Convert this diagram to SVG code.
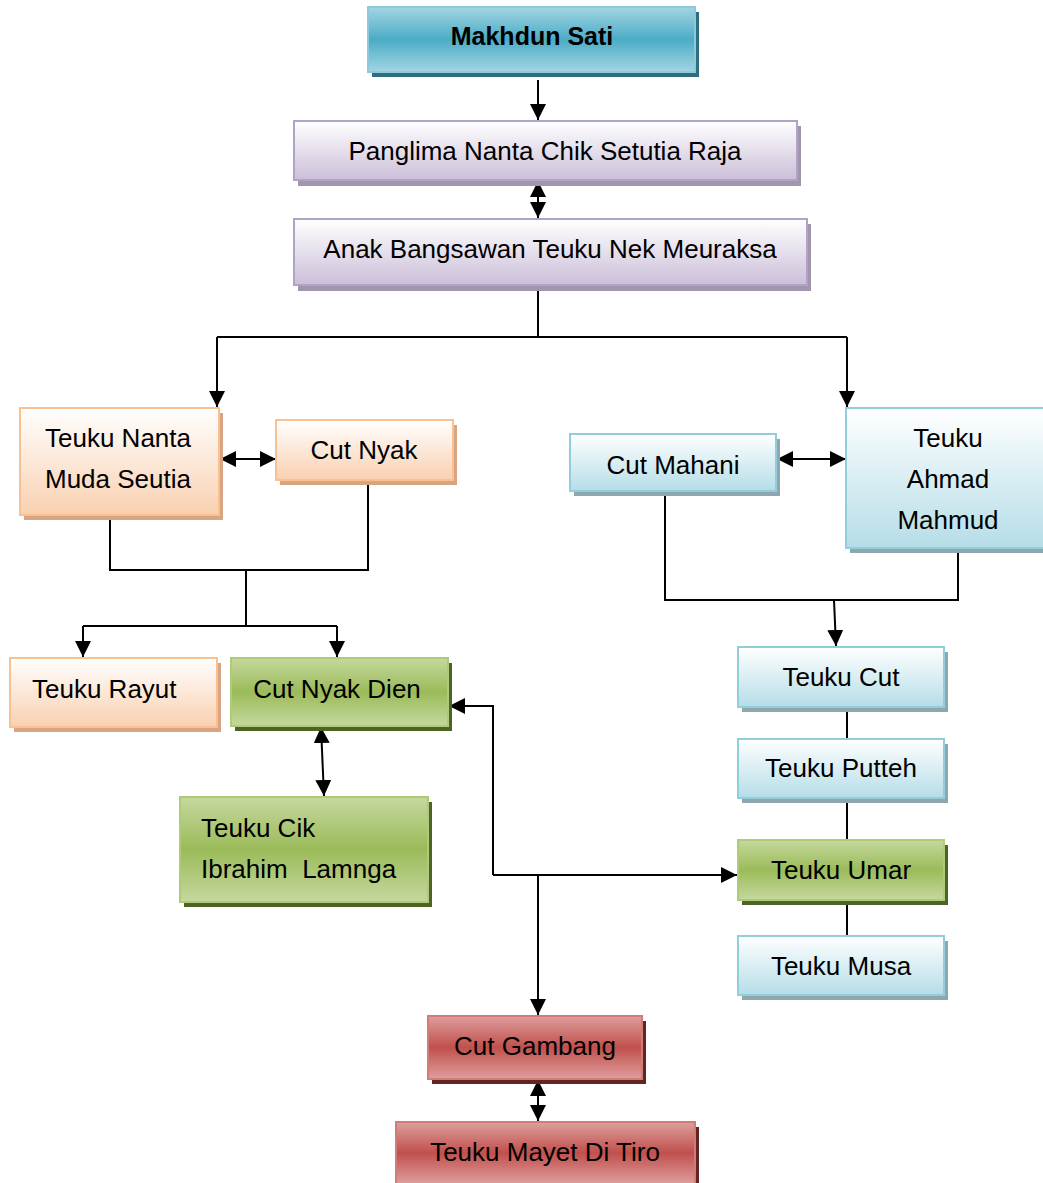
<svg xmlns="http://www.w3.org/2000/svg" width="1043" height="1183" viewBox="0 0 1043 1183">
<defs>
<linearGradient id="gTeal" x1="0" y1="0" x2="0" y2="1"><stop offset="0" stop-color="#A3D5E3"/><stop offset="0.5" stop-color="#4BACC6"/><stop offset="1" stop-color="#A3D5E3"/></linearGradient>
<linearGradient id="gPurple" x1="0" y1="0" x2="0" y2="1"><stop offset="0" stop-color="#FFFFFF"/><stop offset="1" stop-color="#CBBFD9"/></linearGradient>
<linearGradient id="gPeach" x1="0" y1="0" x2="0" y2="1"><stop offset="0" stop-color="#FFFFFF"/><stop offset="1" stop-color="#F9D0B0"/></linearGradient>
<linearGradient id="gBlue" x1="0" y1="0" x2="0" y2="1"><stop offset="0" stop-color="#FFFFFF"/><stop offset="1" stop-color="#B5DDE7"/></linearGradient>
<linearGradient id="gGreen" x1="0" y1="0" x2="0" y2="1"><stop offset="0" stop-color="#C5D89E"/><stop offset="0.5" stop-color="#9BBB59"/><stop offset="1" stop-color="#C5D89E"/></linearGradient>
<linearGradient id="gRed" x1="0" y1="0" x2="0" y2="1"><stop offset="0" stop-color="#DE9F9D"/><stop offset="0.5" stop-color="#C0504D"/><stop offset="1" stop-color="#DE9F9D"/></linearGradient>
<marker id="ah" viewBox="0 0 12 12" refX="12" refY="6" markerWidth="16" markerHeight="16" markerUnits="userSpaceOnUse" orient="auto-start-reverse"><path d="M0,0 L12,6 L0,12 Z" fill="#000"/></marker>
<style>
text{font-family:"Liberation Sans",Arial,sans-serif;font-size:26px;fill:#000}
.c{text-anchor:middle}
.b{font-weight:bold;font-size:25px}
.teal .f{fill:url(#gTeal);stroke:#8CCADB;stroke-width:2}
.teal .s{fill:#2E6E7F}
.purple .f{fill:url(#gPurple);stroke:#B3A2C7;stroke-width:2}
.purple .s{fill:#A196AC}
.peach .f{fill:url(#gPeach);stroke:#FAC08F;stroke-width:2}
.peach .s{fill:#D7A583}
.blue .f{fill:url(#gBlue);stroke:#92CDDC;stroke-width:2}
.blue .s{fill:#8EA6AD}
.green .f{fill:url(#gGreen);stroke:#AECB78;stroke-width:2}
.green .s{fill:#4F6228}
.red .f{fill:url(#gRed);stroke:#D27C79;stroke-width:2}
.red .s{fill:#632523}
.ln{fill:none;stroke:#000;stroke-width:2}
.a1{marker-end:url(#ah)}
.a2{marker-start:url(#ah);marker-end:url(#ah)}
</style>
</defs>
<g id="connectors">
<path class="ln a1" d="M538,80 L538,120"/>
<path class="ln a2" d="M538,181 L538,218"/>
<path class="ln" d="M538,286 L538,337 M217,337 L847,337"/>
<path class="ln a1" d="M217,337 L217,407"/>
<path class="ln a1" d="M847,337 L847,407"/>
<path class="ln a2" d="M220,459 L276,459"/>
<path class="ln" d="M110,516 L110,570 L368,570 L368,481 M246,570 L246,626 M83,626 L337,626"/>
<path class="ln a1" d="M83,626 L83,657"/>
<path class="ln a1" d="M337,626 L337,657"/>
<path class="ln a2" d="M777,459 L846,459"/>
<path class="ln" d="M665,492 L665,600 L958,600 L958,549"/>
<path class="ln a1" d="M834,600 L836,646"/>
<path class="ln" d="M847,708 L847,739 M847,799 L847,840 M847,901 L847,936"/>
<path class="ln a2" d="M321,727 L324,796"/>
<path class="ln a1" d="M493,875 L493,706 L449,706"/>
<path class="ln a1" d="M493,875 L737,875"/>
<path class="ln a1" d="M538,875 L538,1015"/>
<path class="ln a2" d="M538,1080 L538,1121"/>
</g>
<g id="n-makhdun" class="teal"><rect class="s" x="372" y="12" width="327" height="65"/><rect class="f" x="368" y="7" width="327" height="65"/><text class="c b" x="532" y="45">Makhdun Sati</text></g>
<g id="n-panglima" class="purple"><rect class="s" x="298" y="126" width="503" height="60"/><rect class="f" x="294" y="121" width="503" height="59"/><text class="c" x="545" y="160">Panglima Nanta Chik Setutia Raja</text></g>
<g id="n-anak" class="purple"><rect class="s" x="298" y="224" width="513" height="67"/><rect class="f" x="294" y="219" width="513" height="66"/><text class="c" x="550" y="258">Anak Bangsawan Teuku Nek Meuraksa</text></g>
<g id="n-nanta" class="peach"><rect class="s" x="24" y="413" width="199" height="107"/><rect class="f" x="20" y="408" width="199" height="107"/><text class="c" x="118" y="447">Teuku Nanta</text><text class="c" x="118" y="488">Muda Seutia</text></g>
<g id="n-cutnyak" class="peach"><rect class="s" x="280" y="425" width="177" height="60"/><rect class="f" x="276" y="420" width="177" height="60"/><text class="c" x="364" y="459">Cut Nyak</text></g>
<g id="n-rayut" class="peach"><rect class="s" x="14" y="663" width="207" height="69"/><rect class="f" x="10" y="658" width="207" height="69"/><text x="32" y="698">Teuku Rayut</text></g>
<g id="n-dien" class="green"><rect class="s" x="235" y="663" width="217" height="68"/><rect class="f" x="231" y="658" width="217" height="68"/><text class="c" x="337" y="698">Cut Nyak Dien</text></g>
<g id="n-cik" class="green"><rect class="s" x="184" y="802" width="248" height="105"/><rect class="f" x="180" y="797" width="248" height="105"/><text x="201" y="837">Teuku Cik</text><text x="201" y="878">Ibrahim&#160; Lamnga</text></g>
<g id="n-mahani" class="blue"><rect class="s" x="574" y="439" width="206" height="57"/><rect class="f" x="570" y="434" width="206" height="57"/><text class="c" x="673" y="474">Cut Mahani</text></g>
<g id="n-ahmad" class="blue"><rect class="s" x="850" y="413" width="200" height="140"/><rect class="f" x="846" y="408" width="200" height="140"/><text class="c" x="948" y="447">Teuku</text><text class="c" x="948" y="488">Ahmad</text><text class="c" x="948" y="529">Mahmud</text></g>
<g id="n-tcut" class="blue"><rect class="s" x="742" y="652" width="206" height="60"/><rect class="f" x="738" y="647" width="206" height="60"/><text class="c" x="841" y="686">Teuku Cut</text></g>
<g id="n-putteh" class="blue"><rect class="s" x="742" y="744" width="206" height="59"/><rect class="f" x="738" y="739" width="206" height="59"/><text class="c" x="841" y="777">Teuku Putteh</text></g>
<g id="n-umar" class="green"><rect class="s" x="742" y="845" width="206" height="60"/><rect class="f" x="738" y="840" width="206" height="60"/><text class="c" x="841" y="879">Teuku Umar</text></g>
<g id="n-musa" class="blue"><rect class="s" x="742" y="941" width="206" height="59"/><rect class="f" x="738" y="936" width="206" height="59"/><text class="c" x="841" y="975">Teuku Musa</text></g>
<g id="n-gambang" class="red"><rect class="s" x="432" y="1021" width="214" height="63"/><rect class="f" x="428" y="1016" width="214" height="63"/><text class="c" x="535" y="1055">Cut Gambang</text></g>
<g id="n-mayet" class="red"><rect class="s" x="400" y="1127" width="299" height="62"/><rect class="f" x="396" y="1122" width="299" height="62"/><text class="c" x="545" y="1161">Teuku Mayet Di Tiro</text></g>
</svg>
